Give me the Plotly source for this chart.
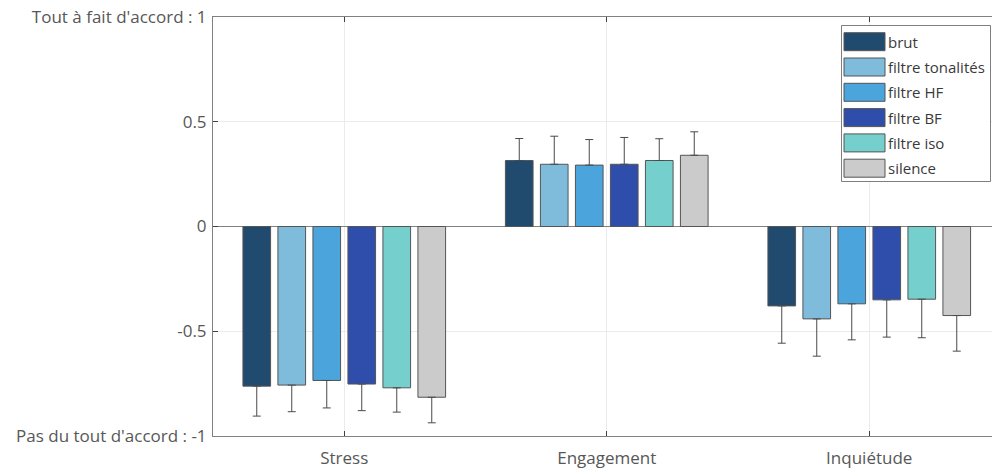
import plotly.graph_objects as go

categories = ["Stress", "Engagement", "Inquiétude"]
series_names = ["brut", "filtre tonalités", "filtre HF", "filtre BF", "filtre iso", "silence"]
series_colors = ["#214a6f", "#7fbcdb", "#4ba4db", "#2f4daa", "#75cfcc", "#cbcbcb"]

# mean values per series (Stress, Engagement, Inquiétude)
brut = [-0.762, 0.315, -0.379]
filtre_tonalites = [-0.757, 0.297, -0.441]
filtre_hf = [-0.735, 0.293, -0.369]
filtre_bf = [-0.752, 0.297, -0.350]
filtre_iso = [-0.770, 0.315, -0.347]
silence = [-0.815, 0.340, -0.425]

# error (one-sided, away from zero)
err_brut = [0.143, 0.105, 0.178]
err_tonalites = [0.127, 0.134, 0.178]
err_hf = [0.131, 0.122, 0.172]
err_bf = [0.127, 0.128, 0.178]
err_iso = [0.116, 0.104, 0.184]
err_silence = [0.122, 0.112, 0.170]

y_tickvals = [-1, -0.5, 0, 0.5, 1]
y_ticktext = ["Pas du tout d'accord : -1", "-0.5", "0", "0.5", "Tout à fait d'accord : 1"]

values = [brut, filtre_tonalites, filtre_hf, filtre_bf, filtre_iso, silence]
errors = [err_brut, err_tonalites, err_hf, err_bf, err_iso, err_silence]

W, H = 992, 470
ML, MT, MB, MR = 213, 17, 34, 0
FONT = "Open Sans"
TXT = "#575757"

fig = go.Figure()
xs = [1, 2, 3]
for name, color, vals, errs in zip(series_names, series_colors, values, errors):
    up = [e if v >= 0 else 0 for v, e in zip(vals, errs)]
    down = [e if v < 0 else 0 for v, e in zip(vals, errs)]
    fig.add_trace(go.Bar(
        x=xs, y=vals, name=name,
        marker=dict(color=color, line=dict(color="#555555", width=1)),
        error_y=dict(type="data", array=up, arrayminus=down, symmetric=False,
                     color="#4a4a4a", thickness=1, width=4),
        showlegend=False,
    ))

pw = W - ML - MR
ph = H - MT - MB

def px2paper_x(px):
    return (px - ML) / pw

def px2paper_y(py):
    return (H - MB - py) / ph

# manual legend with large swatches
shapes = []
annotations = []
shapes.append(dict(type="rect", xref="paper", yref="paper",
                   x0=px2paper_x(841.5), x1=px2paper_x(990.5),
                   y0=px2paper_y(181.5), y1=px2paper_y(25.5),
                   line=dict(color="#7f7f7f", width=1), fillcolor="white", layer="above"))
for i, (name, color) in enumerate(zip(series_names, series_colors)):
    cy = 41.7 + i * 25.3
    shapes.append(dict(type="rect", xref="paper", yref="paper",
                       x0=px2paper_x(844), x1=px2paper_x(885),
                       y0=px2paper_y(cy + 9), y1=px2paper_y(cy - 9),
                       line=dict(color="#555555", width=1), fillcolor=color, layer="above"))
    annotations.append(dict(xref="paper", yref="paper", x=px2paper_x(886), y=px2paper_y(cy),
                            text=name, showarrow=False, xanchor="left", yanchor="middle",
                            font=dict(family=FONT, size=15, color="#3a3a3a")))

fig.update_layout(
    width=W, height=H,
    margin=dict(l=ML, r=MR, t=MT, b=MB, pad=0),
    paper_bgcolor="white", plot_bgcolor="white",
    barmode="group", bargap=0.2, bargroupgap=0.21,
    font=dict(family=FONT, size=17, color=TXT),
    shapes=shapes, annotations=annotations,
    xaxis=dict(range=[0.5, 0.5 + pw / 262.5], tickvals=xs, ticktext=categories,
               showgrid=True, gridcolor="#ebebeb", gridwidth=1,
               showline=True, linecolor="#808080", linewidth=1, mirror="ticks",
               ticks="inside", ticklen=5, tickcolor="#404040", zeroline=False,
               ticklabelstandoff=7,
               tickfont=dict(family=FONT, size=17, color=TXT)),
    yaxis=dict(range=[-1, 1], tickvals=y_tickvals, ticktext=y_ticktext,
               showgrid=True, gridcolor="#ebebeb", gridwidth=1,
               showline=True, linecolor="#808080", linewidth=1,
               ticks="inside", ticklen=5, tickcolor="#404040",
               zeroline=True, zerolinecolor="#808080", zerolinewidth=1,
               ticklabelstandoff=2,
               tickfont=dict(family=FONT, size=17, color=TXT)),
)

fig.write_html("out.html", config={"displayModeBar": False},
               post_script="document.body.style.margin='0';document.body.style.overflow='hidden';")
